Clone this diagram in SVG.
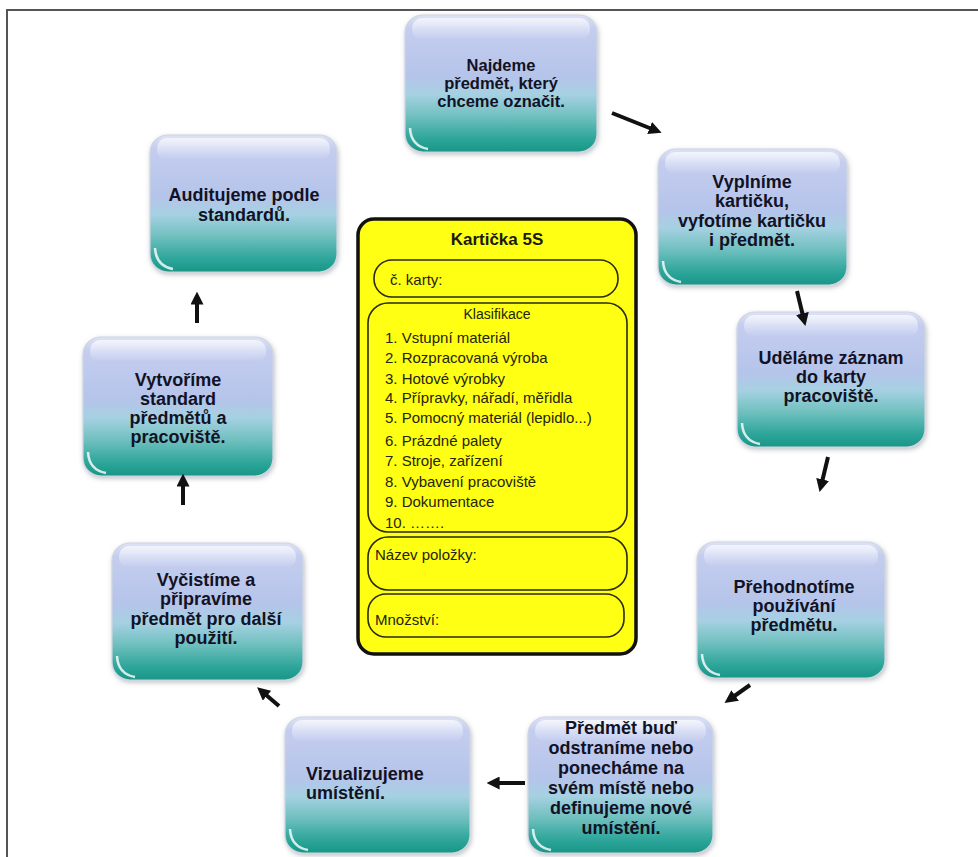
<svg xmlns="http://www.w3.org/2000/svg" width="978" height="857" viewBox="0 0 978 857">
  <defs>
    <linearGradient id="boxFill" x1="0" y1="0" x2="0" y2="1">
      <stop offset="0" stop-color="#dde2f6"/>
      <stop offset="0.1" stop-color="#c4cdef"/>
      <stop offset="0.45" stop-color="#b5c4ea"/>
      <stop offset="0.58" stop-color="#a6d1e2"/>
      <stop offset="0.74" stop-color="#70c0bf"/>
      <stop offset="0.9" stop-color="#2fa69b"/>
      <stop offset="1" stop-color="#189686"/>
    </linearGradient>
    <linearGradient id="gloss" x1="0" y1="0" x2="0" y2="1">
      <stop offset="0" stop-color="#ffffff" stop-opacity="0.7"/>
      <stop offset="1" stop-color="#ffffff" stop-opacity="0"/>
    </linearGradient>
    <filter id="soft" x="-10%" y="-10%" width="120%" height="125%">
      <feDropShadow dx="1" dy="2" stdDeviation="2.5" flood-color="#6a7480" flood-opacity="0.45"/>
    </filter>
    <marker id="head" viewBox="0 0 10 10" refX="2" refY="5" markerWidth="13" markerHeight="13" markerUnits="userSpaceOnUse" orient="auto">
      <path d="M0,0 L10,5 L0,10 z" fill="#111"/>
    </marker>
    <style>
      .box { fill: url(#boxFill); stroke: #cfd6e2; stroke-width: 1.2; filter: url(#soft); }
      .gl { fill: url(#gloss); }
      .corner { fill: none; stroke: #ffffff; stroke-opacity: 0.8; stroke-width: 2.5; }
      .lbl { font-family: "Liberation Sans", Arial, sans-serif; font-weight: bold; font-size: 18px; fill: #121226; text-anchor: middle; }
      .small { font-size: 16.5px; }
      .left { text-anchor: start; }
      .card { fill: #ffff14; stroke: #111; stroke-width: 3.5; }
      .field { fill: #ffff14; stroke: #2a2a10; stroke-width: 1.6; }
      .ct { font-family: "Liberation Sans", Arial, sans-serif; font-size: 15px; fill: #24240a; }
      .title { font-weight: bold; font-size: 17px; text-anchor: middle; fill: #1a1a0a; }
      .head2 { font-size: 14px; text-anchor: middle; }
      .arrow { stroke: #111; stroke-width: 4; fill: none; marker-end: url(#head); }
    </style>
  </defs>

  <rect width="978" height="857" fill="#ffffff"/>
  <!-- outer frame (top and left edges only) -->
  <path d="M7,857 L7,10 L978,10" fill="none" stroke="#555" stroke-width="2"/>

  <!-- central card -->
  <g id="card">
    <rect class="card" x="358" y="219" width="278" height="435" rx="16"/>
    <text class="ct title" x="497" y="245">Kartička 5S</text>
    <rect class="field" x="374" y="260" width="244" height="37" rx="18"/>
    <text class="ct" x="390" y="285">č. karty:</text>
    <rect class="field" x="368" y="303" width="259" height="229" rx="20"/>
    <text class="ct head2" x="497" y="319">Klasifikace</text>
    <text class="ct" x="385" y="343">1. Vstupní materiál</text>
    <text class="ct" x="385" y="363">2. Rozpracovaná výroba</text>
    <text class="ct" x="385" y="384">3. Hotové výrobky</text>
    <text class="ct" x="385" y="403">4. Přípravky, nářadí, měřidla</text>
    <text class="ct" x="385" y="423">5. Pomocný materiál (lepidlo...)</text>
    <text class="ct" x="385" y="446">6. Prázdné palety</text>
    <text class="ct" x="385" y="466">7. Stroje, zařízení</text>
    <text class="ct" x="385" y="487">8. Vybavení pracoviště</text>
    <text class="ct" x="385" y="507">9. Dokumentace</text>
    <text class="ct" x="385" y="528">10. …….</text>
    <rect class="field" x="368" y="537" width="259" height="53" rx="20"/>
    <text class="ct" x="375" y="560">Název položky:</text>
    <rect class="field" x="368" y="594" width="256" height="43" rx="18"/>
    <text class="ct" x="375" y="625">Množství:</text>
  </g>

  <!-- step boxes -->
  <g id="step1">
    <rect class="box" x="405" y="15" width="192" height="137" rx="18"/>
    <rect class="gl" x="412" y="18" width="178" height="22" rx="10"/>
    <path class="corner" d="M410,128 Q411,146 428,149"/>
    <text class="lbl small" x="501" y="71">Najdeme</text>
    <text class="lbl small" x="501" y="89">předmět, který</text>
    <text class="lbl small" x="501" y="107">chceme označit.</text>
  </g>

  <g id="step2">
    <rect class="box" x="658" y="149" width="189" height="136" rx="18"/>
    <rect class="gl" x="665" y="152" width="175" height="22" rx="10"/>
    <path class="corner" d="M663,261 Q664,279 681,282"/>
    <text class="lbl" x="752" y="188">Vyplníme</text>
    <text class="lbl" x="752" y="207">kartičku,</text>
    <text class="lbl" x="752" y="227">vyfotíme kartičku</text>
    <text class="lbl" x="752" y="246">i předmět.</text>
  </g>

  <g id="step3">
    <rect class="box" x="737" y="312" width="188" height="135" rx="18"/>
    <rect class="gl" x="744" y="315" width="174" height="22" rx="10"/>
    <path class="corner" d="M742,423 Q743,441 760,444"/>
    <text class="lbl" x="831" y="364">Uděláme záznam</text>
    <text class="lbl" x="831" y="383">do karty</text>
    <text class="lbl" x="831" y="402">pracoviště.</text>
  </g>

  <g id="step4">
    <rect class="box" x="697" y="542" width="188" height="136" rx="18"/>
    <rect class="gl" x="704" y="545" width="174" height="22" rx="10"/>
    <path class="corner" d="M702,654 Q703,672 720,675"/>
    <text class="lbl" x="794" y="593">Přehodnotíme</text>
    <text class="lbl" x="794" y="612">používání</text>
    <text class="lbl" x="794" y="631">předmětu.</text>
  </g>

  <g id="step5">
    <rect class="box" x="528" y="717" width="185" height="136" rx="18"/>
    <rect class="gl" x="535" y="720" width="171" height="22" rx="10"/>
    <path class="corner" d="M533,829 Q534,847 551,850"/>
    <text class="lbl" x="621" y="734">Předmět buď</text>
    <text class="lbl" x="621" y="754">odstraníme nebo</text>
    <text class="lbl" x="621" y="774">ponecháme na</text>
    <text class="lbl" x="621" y="794">svém místě nebo</text>
    <text class="lbl" x="621" y="814">definujeme nové</text>
    <text class="lbl" x="621" y="834">umístění.</text>
  </g>

  <g id="step6">
    <rect class="box" x="285" y="717" width="185" height="136" rx="18"/>
    <rect class="gl" x="292" y="720" width="171" height="22" rx="10"/>
    <path class="corner" d="M290,829 Q291,847 308,850"/>
    <text class="lbl left" x="306" y="780">Vizualizujeme</text>
    <text class="lbl left" x="306" y="799">umístění.</text>
  </g>

  <g id="step7">
    <rect class="box" x="112" y="543" width="191" height="137" rx="18"/>
    <rect class="gl" x="119" y="546" width="177" height="22" rx="10"/>
    <path class="corner" d="M117,656 Q118,674 135,677"/>
    <text class="lbl" x="206" y="586">Vyčistíme a</text>
    <text class="lbl" x="206" y="605">připravíme</text>
    <text class="lbl" x="206" y="625">předmět pro další</text>
    <text class="lbl" x="206" y="644">použití.</text>
  </g>

  <g id="step8">
    <rect class="box" x="83" y="337" width="190" height="139" rx="18"/>
    <rect class="gl" x="90" y="340" width="176" height="22" rx="10"/>
    <path class="corner" d="M88,452 Q89,470 106,473"/>
    <text class="lbl" x="178" y="386">Vytvoříme</text>
    <text class="lbl" x="178" y="405">standard</text>
    <text class="lbl" x="178" y="424">předmětů a</text>
    <text class="lbl" x="178" y="443">pracoviště.</text>
  </g>

  <g id="step9">
    <rect class="box" x="150" y="135" width="187" height="137" rx="18"/>
    <rect class="gl" x="157" y="138" width="173" height="22" rx="10"/>
    <path class="corner" d="M155,248 Q156,266 173,269"/>
    <text class="lbl" x="244" y="201">Auditujeme podle</text>
    <text class="lbl" x="244" y="221">standardů.</text>
  </g>

  <!-- connectors -->
  <g id="connectors">
    <line class="arrow" x1="612" y1="113" x2="652" y2="129"/>
    <line class="arrow" x1="797" y1="291" x2="803" y2="316"/>
    <line class="arrow" x1="828" y1="457" x2="822" y2="482"/>
    <line class="arrow" x1="750" y1="685" x2="733" y2="697"/>
    <line class="arrow" x1="525" y1="783" x2="497" y2="783"/>
    <line class="arrow" x1="279" y1="706" x2="265" y2="694"/>
    <line class="arrow" x1="183" y1="505" x2="183" y2="484"/>
    <line class="arrow" x1="197" y1="323" x2="197" y2="302"/>
  </g>
</svg>
